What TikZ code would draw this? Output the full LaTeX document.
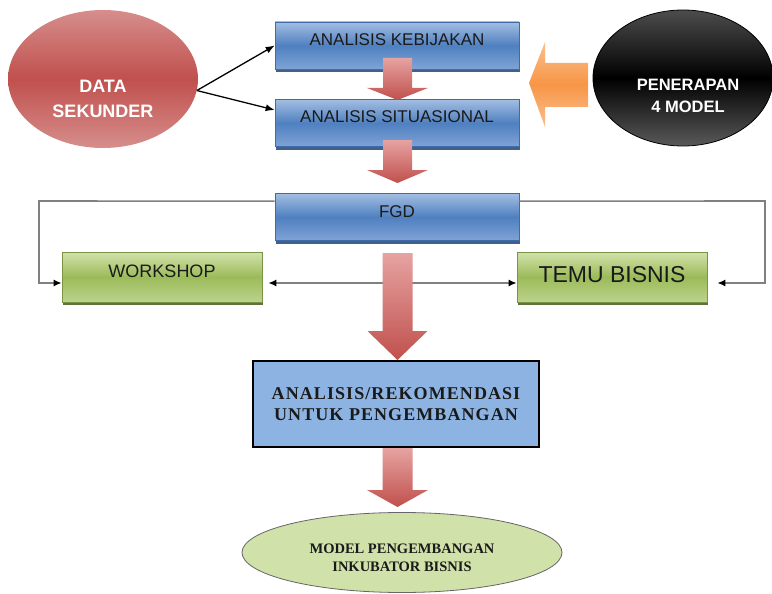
\documentclass[tikz,border=0pt]{standalone}
\usepackage{fontspec}
\setmainfont{Liberation Serif}
\setsansfont{Liberation Sans}
\newfontfamily\spacedserif[LetterSpace=6]{Liberation Serif}
\usetikzlibrary{arrows.meta,shadows,shapes.geometric,calc}

\definecolor{blueTop}{HTML}{A3BEE3}
\definecolor{blueMid}{HTML}{4F80C0}
\definecolor{blueBot}{HTML}{7FA3D6}
\definecolor{blueEdge}{HTML}{3F6CA8}
\definecolor{blueShade}{HTML}{2D4F7E}
\definecolor{greenTop}{HTML}{D2E2AC}
\definecolor{greenMid}{HTML}{9BBB59}
\definecolor{greenBot}{HTML}{BCD38C}
\definecolor{greenEdge}{HTML}{7A9446}
\definecolor{greenShade}{HTML}{4E6228}
\definecolor{redLight}{HTML}{E6A3A1}
\definecolor{redDark}{HTML}{C0504D}
\definecolor{redEll}{HTML}{D68E8C}
\definecolor{orangeLight}{HTML}{FAC08F}
\definecolor{orangeMain}{HTML}{F79646}
\definecolor{paleBlue}{HTML}{8DB3E2}
\definecolor{paleGreen}{HTML}{D0E1AA}
\definecolor{lineGray}{HTML}{808080}
\definecolor{inkDark}{HTML}{1A1A1A}

\tikzset{
  bluebox/.style={rectangle, draw=blueEdge, line width=0.6pt,
    top color=blueTop, bottom color=blueBot, middle color=blueMid,
    minimum width=244pt, minimum height=47pt, inner sep=0pt,
    text height=4pt, text depth=4pt, text=inkDark,
    font=\sffamily\fontsize{17}{17}\selectfont,
    drop shadow={shadow xshift=1pt, shadow yshift=-3pt, opacity=0.9, fill=blueShade}},
  greenbox/.style={rectangle, draw=greenEdge, line width=0.6pt,
    top color=greenTop, bottom color=greenBot, middle color=greenMid,
    minimum height=50pt, inner sep=0pt, text=inkDark,
    drop shadow={shadow xshift=1pt, shadow yshift=-3pt, opacity=0.9, fill=greenShade}},
  plainbox/.style={rectangle, draw=black, line width=1.2pt, fill=paleBlue,
    minimum width=286pt, minimum height=86pt, inner sep=0pt, align=center,
    text=inkDark, font=\spacedserif\bfseries\fontsize{18}{21.5}\selectfont},
  oval/.style={ellipse, inner sep=0pt},
  whitetext/.style={text=white, align=center, font=\sffamily\bfseries},
  linkarrow/.style={draw=black, line width=1.3pt, -{Latex[length=9pt,width=7pt]}},
  grayline/.style={draw=lineGray, line width=1.6pt},
  redarrow/.style={top color=redLight, bottom color=redDark, draw=none},
  orangearrow/.style={top color=orangeLight, bottom color=orangeLight, middle color=orangeMain, draw=none}
}

% downward block arrow: centre x, top y, head start y, tip y, half shaft, half head
\newcommand\blockdown[6]{%
  \path[redarrow] (#1-#5,#2) -- (#1+#5,#2) -- (#1+#5,#3) -- (#1+#6,#3)
    -- (#1,#4) -- (#1-#6,#3) -- (#1-#5,#3) -- cycle;}

\begin{document}
\begin{tikzpicture}[x=1pt,y=-1pt]
\fill[white] (0,0) rectangle (772,594);
\useasboundingbox (0,0) rectangle (772,594);

% process boxes
\node[bluebox] (kebijakan) at (397,45.5) {ANALISIS KEBIJAKAN};
\node[bluebox] (situasional) at (397,123) {ANALISIS SITUASIONAL};
\node[bluebox] (fgd) at (397,217) {FGD};
\node[greenbox, minimum width=200pt, text height=4pt, text depth=4pt,
      font=\sffamily\fontsize{18}{18}\selectfont] (workshop) at (162,277) {WORKSHOP};
\node[greenbox, minimum width=190pt, text height=12pt, text depth=2pt,
      font=\sffamily\fontsize{23}{23}\selectfont] (temu) at (612,277) {TEMU BISNIS};
\node[plainbox] (rekom) at (396,404) {ANALISIS/REKOMENDASI\\UNTUK PENGEMBANGAN};

% ellipses
\node[oval, minimum width=190pt, minimum height=138pt,
      top color=redEll, bottom color=redEll, middle color=redDark] (data) at (103,79) {};
\node[whitetext, font=\sffamily\bfseries\fontsize{18}{24.5}\selectfont] (datatxt) at (103,99) {DATA\\SEKUNDER};
\node[oval, minimum width=180pt, minimum height=136pt, draw=black, line width=0.8pt,
      top color=black!70, bottom color=black!65, middle color=black] (penerapan) at (683,78) {};
\node[whitetext, font=\sffamily\bfseries\fontsize{16.5}{22}\selectfont] (penerapantxt) at (688,95.5) {PENERAPAN\\4 MODEL};
\node[oval, minimum width=320pt, minimum height=80pt, fill=paleGreen, draw=black!60, line width=0.8pt] (model) at (402,552.5) {};
\node[align=center, text=inkDark, font=\rmfamily\bfseries\fontsize{14.5}{18}\selectfont] (modeltxt) at (402,558) {MODEL PENGEMBANGAN\\INKUBATOR BISNIS};

% links from the secondary data
\draw[linkarrow] (data.-7) -- (kebijakan.west);
\draw[linkarrow] (data.-7) -- ($(situasional.west)+(0,-13)$);

% feedback loops around FGD
\coordinate (lt) at (39,201);
\coordinate (lb) at (39,283);
\coordinate (rt) at (765,201);
\coordinate (rb) at (765,283);
\draw[grayline, -{Latex[length=8pt,width=7pt,color=black]}]
  ($(fgd.north west)+(0,8)$) -- (lt) -- (lb) -- ($(workshop.west)+(0,6)$);
\draw[grayline, -{Latex[length=8pt,width=7pt,color=black]}]
  ($(fgd.north east)+(0,8)$) -- (rt) -- (rb) -- ($(temu.east)+(10,6)$);
\draw[grayline, {Latex[length=8pt,width=7pt,color=black]}-{Latex[length=8pt,width=7pt,color=black]}]
  ($(workshop.east)+(6,6)$) -- ($(temu.west)+(0,6)$);

% downward flow arrows
\blockdown{397.5}{58}{88}{100}{14.5}{30.5}
\blockdown{397.5}{140}{170}{183}{14.5}{30.5}
\blockdown{397.5}{253}{331}{360}{15}{30}
\blockdown{397.5}{448}{490}{507}{15}{30.5}

% arrow from the four models
\path[orangearrow] (529,83) -- (545,42) -- (545,63) -- (588,63) -- (588,107)
  -- (545,107) -- (545,127) -- cycle;
\end{tikzpicture}
\end{document}
